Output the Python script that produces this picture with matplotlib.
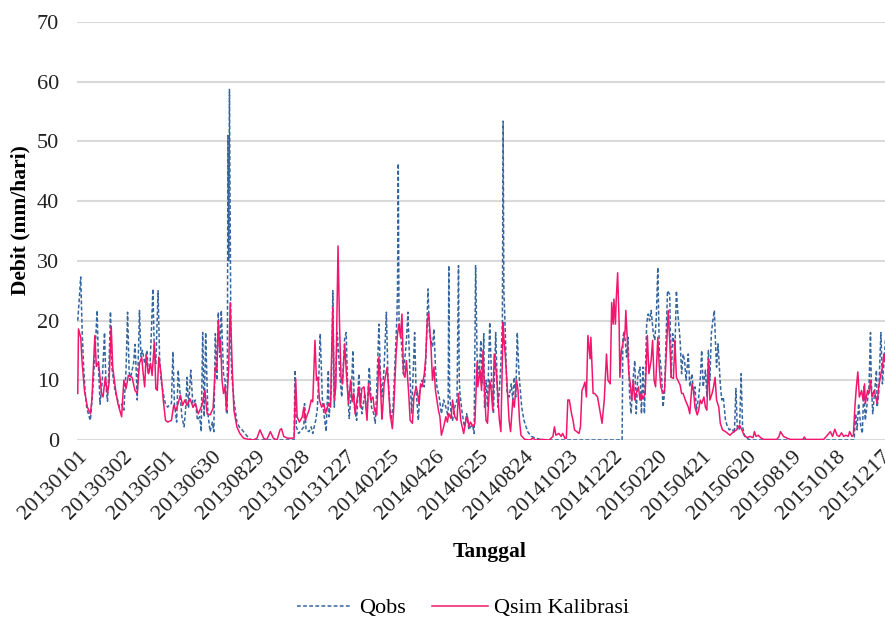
import matplotlib
matplotlib.use("Agg")
import matplotlib.pyplot as plt

# tick labels every 60 days, starting 2013-01-01 (day 0)
tick_days = [0, 60, 120, 180, 240, 300, 360, 420, 480, 540, 600, 660, 720, 780, 840, 900, 960, 1020, 1080]
tick_labels = ['20130101', '20130302', '20130501', '20130630', '20130829', '20131028', '20131227',
               '20140225', '20140426', '20140625', '20140824', '20141023', '20141222', '20150220',
               '20150421', '20150620', '20150819', '20151018', '20151217']

# Qobs (day index, mm/hari)
obs_day = [0, 2, 4, 6, 8, 10, 12, 15, 17, 20, 23, 26, 28, 30, 33, 36, 38, 40, 42, 44, 46, 50, 53, 56, 59,
           62, 65, 67, 69, 70, 72, 75, 77, 79, 80, 83, 85, 87, 90, 93, 95, 97, 99, 101, 103, 105, 108, 110,
           112, 115, 118, 121, 124, 126, 128, 130, 133, 135, 138, 140, 143, 145, 147, 149, 152, 155, 158,
           161, 164, 166, 168, 170, 172, 175, 178, 181, 183, 185, 187, 189, 191, 193, 196, 198, 200, 201,
           202, 203, 204, 206, 207, 210, 214, 218, 221, 225, 230, 234, 290, 291, 292, 294, 297, 301, 304,
           305, 307, 311, 314, 316, 320, 322, 324, 326, 329, 331, 334, 337, 338, 341, 343, 345, 347, 349,
           351, 353, 355, 359, 361, 363, 365, 368, 370, 372, 375, 378, 380, 382, 386, 389, 392, 395, 398,
           400, 402, 405, 407, 409, 412, 415, 417, 421, 424, 427, 429, 430, 431, 432, 433, 435, 438, 442,
           444, 447, 449, 451, 453, 455, 456, 458, 460, 463, 466, 468, 470, 471, 473, 477, 479, 481, 483,
           486, 489, 492, 495, 498, 499, 500, 502, 504, 507, 510, 512, 513, 514, 517, 520, 523, 526, 528,
           531, 533, 535, 537, 540, 542, 544, 546, 547, 549, 551, 554, 557, 559, 562, 565, 567, 569, 571,
           572, 573, 575, 577, 580, 583, 585, 587, 589, 591, 593, 594, 597, 600, 605, 610, 616, 625, 732,
           733, 735, 738, 740, 742, 744, 747, 749, 751, 753, 756, 758, 760, 762, 765, 767, 769, 771, 774,
           776, 778, 780, 782, 785, 787, 789, 791, 793, 796, 798, 800, 803, 805, 807, 810, 812, 814, 816,
           818, 821, 823, 826, 828, 830, 832, 835, 837, 839, 841, 844, 846, 848, 850, 852, 854, 856, 858,
           859, 861, 864, 866, 868, 871, 873, 876, 880, 883, 885, 887, 890, 892, 894, 897, 902, 908, 1044,
           1046, 1048, 1050, 1053, 1055, 1057, 1059, 1062, 1064, 1066, 1067, 1069, 1072, 1074, 1075, 1077,
           1080, 1082, 1084, 1086]
obs_val = [20, 23.5, 27.3, 18, 12, 8, 5.5, 4, 3.3, 8, 14, 21.7, 12, 6, 10, 18, 9, 6.5, 12, 21.5, 12, 8.3, 7,
           5.5, 6, 5, 12, 21.4, 12, 10, 11, 12.8, 16, 10.5, 6.7, 21.7, 14, 15, 12.8, 15, 11, 12, 18, 25.3,
           15, 12.8, 25, 14, 10, 7.8, 6, 5.5, 6, 6.1, 14.8, 6, 3, 11.7, 7.2, 3.9, 2.2, 5, 10.5, 5.5, 11.7,
           5.5, 6.7, 3.3, 3.9, 1.4, 18, 3.9, 18, 4.4, 1.4, 3, 1.4, 17.8, 10, 21.4, 13.9, 21.7, 11.1, 10,
           4.4, 4.4, 51, 30, 58.7, 15, 11, 6.7, 3, 2, 1.7, 1.1, 0.3, 0, 0, 0, 11.7, 2.2, 1.1, 1.7, 2.2, 6.1,
           1.7, 1.4, 2.2, 1.1, 3.3, 5, 10, 17.8, 6.7, 4.4, 1.4, 11.7, 3.9, 8.3, 25, 5.5, 11.1, 18, 14, 10,
           7.2, 17.2, 18, 8.3, 3.6, 8.3, 15, 5.5, 3.3, 11.1, 7.2, 4.4, 7.8, 4.4, 12.2, 5.5, 4.4, 2.8, 8.3,
           19.4, 11.1, 7.2, 12.2, 21.4, 11.1, 3.3, 5.5, 14.4, 20, 25, 46.3, 20, 18.9, 16.7, 11.1, 16.7,
           21.4, 10, 4.4, 11.1, 18, 8, 6.7, 3.3, 8.3, 10, 8.9, 13.3, 21.4, 25.3, 17.8, 15.6, 18.6, 12.2,
           8.9, 7.2, 4.4, 6.7, 5.5, 3.9, 29.2, 8, 4.4, 3.3, 5.5, 6.7, 29.2, 10, 7.8, 4.4, 2.2, 4.4, 1.7,
           2.2, 2.5, 1.1, 29.2, 13.9, 11.1, 16.7, 9.4, 17.8, 5.5, 10, 5.5, 19.7, 8.3, 4.4, 18, 5.5, 8.3,
           12.8, 20, 53.4, 25, 17.8, 8.3, 7.2, 9.4, 6.7, 10.5, 7.2, 18, 12, 10, 5.5, 3.3, 1.4, 0.6, 0.3, 0,
           0, 17.2, 18.3, 13.9, 17.2, 7.8, 4.4, 10.5, 13.3, 4.4, 10.5, 12.2, 4.4, 12.2, 4.4, 19.4, 21.1, 20,
           21.7, 17.8, 16.7, 20.6, 28.9, 15, 11.1, 5.5, 7.8, 16.7, 25, 24.4, 10.5, 17.8, 15, 25, 21.1,
           16.7, 11.1, 14.4, 13.3, 10, 14.4, 8.9, 11.1, 7.8, 8.9, 5, 7.2, 10, 15, 8.9, 11.7, 7.2, 15, 10,
           17.8, 20, 21.7, 15, 12.2, 16.1, 9.4, 6.7, 7.2, 3.3, 2.5, 1.7, 1.9, 1.1, 8.6, 1.7, 1.9, 11.1, 2.2,
           0.6, 0.1, 0, 0, 4.4, 1.7, 6.1, 2.2, 1.1, 8.9, 3.3, 6.7, 8.9, 18, 10, 4.4, 8.9, 11.7, 5.5, 7.8,
           18, 9.4, 12.8, 16.7]

# Qsim Kalibrasi (day index, mm/hari)
sim_day = [0, 1, 4, 6, 9, 13, 17, 19, 23, 25, 28, 32, 34, 37, 40, 42, 45, 47, 51, 54, 59, 62, 65, 68, 73,
           77, 80, 83, 86, 88, 90, 92, 95, 98, 100, 103, 105, 107, 109, 112, 115, 118, 121, 126, 129, 132,
           135, 138, 141, 144, 147, 151, 155, 158, 162, 167, 171, 174, 178, 182, 185, 187, 189, 191, 192,
           194, 196, 198, 200, 203, 205, 208, 210, 214, 218, 223, 230, 236, 241, 245, 250, 254, 259, 263,
           268, 272, 274, 277, 282, 288, 291, 293, 295, 298, 302, 304, 306, 311, 314, 316, 319, 321, 323,
           325, 328, 331, 333, 335, 338, 340, 341, 343, 345, 347, 350, 352, 354, 356, 359, 361, 364, 367,
           369, 371, 373, 376, 378, 380, 382, 385, 387, 389, 391, 394, 397, 399, 402, 405, 407, 409, 410,
           412, 416, 417, 420, 423, 425, 428, 430, 432, 434, 436, 438, 440, 442, 445, 447, 450, 452, 455,
           457, 459, 461, 463, 466, 468, 470, 472, 475, 477, 479, 481, 485, 487, 489, 492, 495, 497, 499,
           502, 504, 507, 510, 512, 515, 519, 522, 524, 526, 528, 532, 534, 537, 538, 541, 543, 545, 547,
           549, 551, 554, 556, 558, 560, 563, 565, 567, 569, 572, 573, 575, 577, 580, 582, 585, 587, 590,
           592, 594, 596, 601, 608, 612, 616, 625, 634, 639, 641, 643, 647, 650, 652, 655, 657, 659, 661,
           664, 666, 668, 671, 674, 676, 678, 680, 682, 684, 686, 689, 690, 693, 695, 699, 702, 705, 708,
           711, 713, 716, 718, 720, 721, 723, 724, 726, 728, 729, 731, 734, 736, 737, 739, 741, 743, 745,
           747, 749, 751, 754, 756, 758, 760, 763, 766, 768, 771, 773, 775, 777, 780, 782, 784, 787, 789,
           792, 794, 796, 798, 801, 803, 805, 807, 810, 812, 814, 817, 821, 823, 826, 828, 830, 833, 835,
           837, 839, 842, 844, 846, 848, 850, 853, 855, 857, 859, 862, 864, 867, 871, 874, 877, 882, 886,
           890, 893, 896, 900, 904, 908, 910, 912, 915, 919, 923, 940, 943, 945, 949, 954, 958, 975, 977,
           979, 1003, 1008, 1012, 1015, 1018, 1021, 1024, 1027, 1030, 1033, 1036, 1038, 1041, 1043, 1045,
           1047, 1049, 1051, 1054, 1056, 1058, 1059, 1062, 1064, 1066, 1068, 1071, 1073, 1075, 1077, 1080,
           1082, 1084, 1086]
sim_val = [7.8, 18.6, 17.2, 12.8, 8.3, 5.5, 4.4, 6.7, 17.5, 12.3, 13, 7.8, 7.2, 10.5, 7.8, 9.4, 19, 12.2,
           8.3, 6.1, 3.9, 10, 8.6, 10.8, 10.5, 8.3, 7.8, 12.8, 13.9, 11.1, 8.9, 14.2, 11.1, 12.8, 10.8, 16.4,
           8.6, 8.3, 13.9, 11.1, 6.7, 3.3, 3, 3.3, 5.8, 5, 6.1, 7.5, 5.8, 6.7, 5.8, 6.9, 5.5, 6.1, 4.4, 5.8,
           8.3, 4.4, 4.2, 5.3, 12.2, 11.7, 20, 15, 16.7, 10, 7.8, 8.9, 5, 12.2, 23, 11.1, 5, 2.2, 1.1, 0.3,
           0.1, 0, 0.3, 1.7, 0.3, 0, 1.4, 0.3, 0, 1.7, 1.9, 0.6, 0.3, 0.3, 0.4, 10.3, 3.9, 3, 3.9, 5.5, 3.3,
           5, 6.7, 6.4, 16.7, 10, 10.5, 6.7, 5.5, 6.1, 4.4, 5.3, 6.1, 5.5, 12.2, 22.2, 6.7, 8.9, 32.5, 19.4,
           10.5, 9.4, 16.1, 11.7, 6.1, 10, 6.4, 7.8, 4.4, 7.2, 8.9, 5.5, 8.6, 8.9, 6.1, 3.3, 9.4, 6.7, 7.2,
           5, 4.2, 13.9, 9.4, 3.5, 5, 9.4, 12.2, 10.5, 4.4, 1.9, 5.5, 14.2, 17.8, 19.4, 17.2, 21.1, 11.1,
           10.5, 13.3, 7.8, 3.3, 2.8, 7.2, 8.9, 7.8, 6.1, 9.4, 8.9, 11.1, 13.9, 20, 21.1, 15.6, 10, 12.2,
           8.3, 5, 3.9, 0.8, 2.2, 3.9, 3, 4.4, 3.6, 6.7, 3.9, 3.3, 7.8, 3.3, 1.1, 3.3, 3.9, 2.2, 3, 2.2,
           2.8, 13.1, 8.9, 11.7, 8.3, 15, 8.3, 3.3, 2.8, 10, 8.3, 5, 14.4, 11.1, 7.2, 3.3, 1.4, 19.7, 17.2,
           13.9, 10, 3.3, 1.4, 6.7, 5.5, 10, 8.3, 3.3, 0.8, 0.1, 0, 0.3, 0, 0.1, 0, 0.6, 2.2, 0.8, 1.1,
           0.6, 1.1, 0.3, 0.3, 6.7, 6.7, 4.4, 3.3, 1.7, 1.4, 1.1, 2.2, 8.3, 8.9, 9.7, 7.2, 17.5, 13.6,
           17.2, 7.8, 7.8, 7.2, 5, 2.8, 6.7, 14.4, 10, 9.4, 23, 19.4, 23.6, 19.4, 23.3, 28, 19.4, 10.5, 15,
           16.7, 18.3, 21.7, 16.7, 11.1, 9.4, 6.7, 10, 6.7, 7.8, 8.9, 6.7, 7.8, 6.9, 7.8, 17.5, 11.1, 13.3,
           16.7, 10, 8.9, 17.2, 12.2, 8.9, 7.8, 8.3, 16.1, 21.7, 16.7, 10.5, 10.3, 16.7, 10.5, 10, 9.2,
           7.8, 7.8, 6.7, 5.5, 4.4, 9.4, 8.3, 5.5, 4.2, 5, 6.7, 6.1, 7.2, 5.5, 5, 13.6, 6.7, 7.8, 8.9, 10.5,
           6.7, 5.5, 2.8, 1.7, 1.4, 1.1, 0.8, 1.4, 1.7, 2.5, 1.7, 0.8, 0.4, 0.6, 0.4, 1.4, 0.6, 0.8, 0.3,
           0.1, 0.1, 0.6, 1.4, 0.6, 0.3, 0.1, 0.1, 0.5, 0.1, 0.1, 0.8, 1.4, 0.6, 1.8, 0.8, 0.6, 1.2, 0.6,
           0.8, 0.6, 1.4, 0.6, 0.8, 5.5, 8.9, 11.4, 7.2, 8.3, 6.7, 9.4, 6.1, 8.3, 7.8, 10, 7.2, 8.3, 7.2,
           6.1, 8.9, 11.1, 12.2, 14.4, 13]

plt.rcParams['font.family'] = ['Liberation Serif', 'DejaVu Serif']

fig = plt.figure(figsize=(8.85, 6.22), dpi=100)
ax = fig.add_axes([77 / 885, 1 - 440 / 622, 1 - 77 / 885, (440 - 22) / 622])

ax.plot(obs_day, obs_val, color='#35659F', lw=1.1, linestyle=(0, (2.5, 1.5)), label='Qobs', zorder=3)
ax.plot(sim_day, sim_val, color='#F2166E', lw=1.1, label='Qsim Kalibrasi', zorder=4)

ax.set_xlim(-1, 1085.5)
ax.set_ylim(0, 70)
ax.set_yticks(range(0, 71, 10))
ax.set_xticks(tick_days)
ax.set_xticklabels(tick_labels, rotation=45, ha='right', rotation_mode='anchor')
ax.tick_params(axis='both', length=0, labelsize=16, colors='#222222')
ax.tick_params(axis='y', pad=13)
ax.tick_params(axis='x', pad=5)
ax.grid(axis='y', color='#D9D9D9', lw=1.5)
ax.set_axisbelow(True)
for s in ax.spines.values():
    s.set_visible(False)

fig.text(490 / 885, 1 - 552 / 622, 'Tanggal', ha='center', va='center', fontsize=15.5, fontweight='bold')
fig.text(20 / 885, 1 - 220 / 622, 'Debit (mm/hari)', ha='center', va='center', rotation=90,
         fontsize=15.5, fontweight='bold')

fig.legend(loc='center', bbox_to_anchor=(463 / 885, 1 - 608 / 622), ncol=2, frameon=False,
           fontsize=16, handlelength=2.5, handletextpad=0.3, columnspacing=1.2)

fig.savefig('out.png', dpi=100)
